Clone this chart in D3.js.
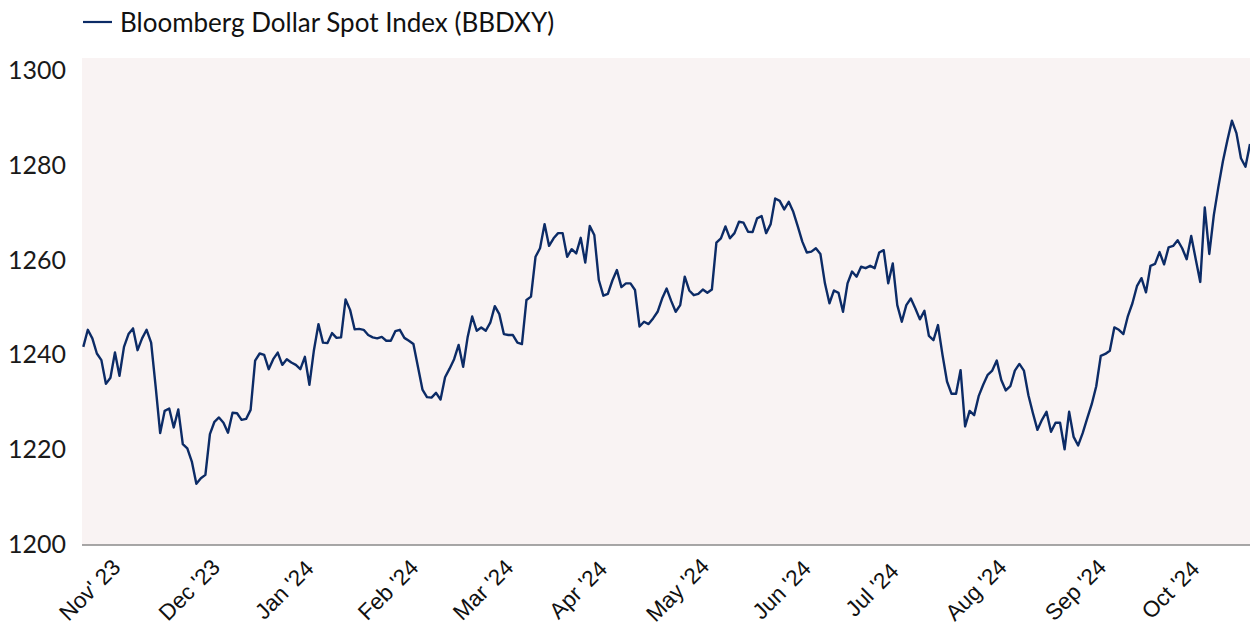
<!DOCTYPE html>
<html>
<head>
<meta charset="utf-8">
<script src="https://cdnjs.cloudflare.com/ajax/libs/d3/7.8.5/d3.min.js"></script>
<style>
  html, body { margin: 0; padding: 0; background: #fff; }
  svg { display: block; font-family: Lato, "Open Sans", sans-serif; }
</style>
</head>
<body>
<svg id="chart" width="1250" height="628"></svg>
<script>
// series + axis data
const seriesName = 'Bloomberg Dollar Spot Index (BBDXY)';
const firstDay = '2023-10-30'; // first trading day shown
const bbdxy = [
  1241.8, 1245.4, 1243.6, 1240.4, 1239.0, 1234.0, 1235.3, 1240.6, 1235.7, 1241.8,
  1244.5, 1245.7, 1241.1, 1243.6, 1245.4, 1242.7, 1233.4, 1223.6, 1228.3, 1228.8,
  1224.8, 1228.6, 1221.3, 1220.4, 1217.6, 1212.9, 1214.1, 1214.8, 1223.4, 1226.0,
  1226.9, 1225.8, 1223.7, 1227.9, 1227.8, 1226.4, 1226.6, 1228.5, 1238.9, 1240.4,
  1240.1, 1237.1, 1239.2, 1240.6, 1238.0, 1239.2, 1238.5, 1238.0, 1237.1, 1239.7,
  1233.8, 1241.1, 1246.6, 1242.7, 1242.6, 1244.7, 1243.7, 1243.8, 1251.8, 1249.6,
  1245.5, 1245.6, 1245.4, 1244.3, 1243.8, 1243.6, 1243.9, 1243.1, 1243.1, 1245.1,
  1245.4, 1243.7, 1243.1, 1242.4, 1237.6, 1232.8, 1231.2, 1231.1, 1232.1, 1230.7,
  1235.4, 1237.2, 1239.2, 1242.2, 1237.6, 1243.9, 1248.2, 1245.2, 1245.9, 1245.2,
  1246.9, 1250.4, 1248.7, 1244.5, 1244.3, 1244.3, 1242.7, 1242.4, 1251.7, 1252.4,
  1260.8, 1262.6, 1267.7, 1263.1, 1264.7, 1265.8, 1265.8, 1260.8, 1262.4, 1261.5,
  1264.8, 1259.6, 1267.3, 1265.4, 1255.9, 1252.6, 1253.0, 1255.8, 1258.0, 1254.4,
  1255.2, 1255.2, 1253.8, 1246.1, 1247.1, 1246.6, 1247.8, 1249.2, 1252.0, 1254.1,
  1251.5, 1249.2, 1250.6, 1256.6, 1253.7, 1252.7, 1253.0, 1253.9, 1253.2, 1253.9,
  1263.8, 1264.7, 1267.2, 1264.7, 1265.8, 1268.2, 1268.0, 1266.1, 1266.0, 1268.9,
  1269.4, 1265.8, 1267.7, 1273.1, 1272.6, 1270.8, 1272.4, 1270.3, 1267.2, 1264.0,
  1261.7, 1261.9, 1262.6, 1261.4, 1255.2, 1251.0, 1253.7, 1253.2, 1249.2, 1255.2,
  1257.7, 1256.6, 1258.7, 1258.4, 1258.9, 1258.4, 1261.7, 1262.2, 1255.2, 1259.4,
  1250.6, 1247.1, 1250.6, 1252.0, 1249.9, 1247.6, 1249.4, 1244.1, 1243.2, 1246.4,
  1240.1, 1234.5, 1231.9, 1231.9, 1236.9, 1225.0, 1228.3, 1227.4, 1231.4, 1233.8,
  1235.9, 1236.8, 1238.9, 1234.8, 1232.6, 1233.5, 1236.8, 1238.2, 1236.8, 1231.6,
  1227.8, 1224.3, 1226.4, 1228.1, 1223.9, 1225.8, 1225.8, 1220.2, 1228.1, 1222.8,
  1221.0, 1223.6, 1226.7, 1229.7, 1233.5, 1239.9, 1240.3, 1241.0, 1245.9, 1245.4,
  1244.5, 1248.3, 1251.0, 1254.6, 1256.3, 1253.3, 1258.9, 1259.3, 1261.8, 1259.2,
  1262.8, 1263.1, 1264.3, 1262.6, 1260.3, 1265.2, 1260.3, 1255.5, 1271.2, 1261.4,
  1269.6, 1275.5, 1280.9, 1285.4, 1289.5, 1286.9, 1281.6, 1279.8, 1284.6
];
const yTicks = [1200, 1220, 1240, 1260, 1280, 1300];
const monthLabels = ["Nov' 23", "Dec '23", "Jan '24", "Feb '24", "Mar '24", "Apr '24",
  "May '24", "Jun '24", "Jul '24", "Aug '24", "Sep '24", "Oct '24"];

const lineColor = '#0c2b66';
const bgColor = '#f9f3f3';

const svg = d3.select('#chart');
const plot = { left: 82, right: 1250, top: 58, bottom: 545 };

// trading days (weekdays) matching the series
const start = d3.timeParse('%Y-%m-%d')(firstDay);
const days = d3.timeDay.range(start, d3.timeDay.offset(start, 400))
  .filter(d => d.getDay() !== 0 && d.getDay() !== 6)
  .slice(0, bbdxy.length);
const data = days.map((d, i) => ({ date: d, value: bbdxy[i] }));

const xScale = d3.scalePoint()
  .domain(d3.range(data.length))
  .range([plot.left + 1.3, plot.right]);
const yScale = d3.scaleLinear().domain([1200, 1300]).range([plot.bottom, 71]);

// plot background
svg.append('rect')
  .attr('x', plot.left)
  .attr('y', plot.top)
  .attr('width', plot.right - plot.left)
  .attr('height', plot.bottom - plot.top)
  .attr('fill', bgColor);

// y labels
svg.append('g')
  .selectAll('text')
  .data(yTicks)
  .join('text')
  .attr('x', 66)
  .attr('y', d => yScale(d) - 2)
  .attr('text-anchor', 'end')
  .attr('dominant-baseline', 'central')
  .attr('font-size', 25)
  .attr('fill', '#1a1a1a')
  .text(d => d);

// bottom axis line, month labels at first trading day of each month
const firstIdx = [];
data.forEach((d, i) => {
  if (i === 0 || d.date.getMonth() !== data[i - 1].date.getMonth()) {
    if (d.date.getDate() <= 7) firstIdx.push(i);
  }
});
const xAxis = d3.axisBottom(xScale)
  .tickValues(firstIdx)
  .tickSize(0)
  .tickFormat('');
const gx = svg.append('g')
  .attr('transform', `translate(0, ${plot.bottom})`)
  .call(xAxis);
gx.select('.domain')
  .attr('d', `M${plot.left},0H${plot.right}`)
  .attr('stroke', '#8a8a8a')
  .attr('stroke-width', 1.5);

gx.selectAll('.tick').append('text')
  .attr('fill', '#111')
  .attr('font-size', 22.5)
  .attr('text-anchor', 'middle')
  .attr('dominant-baseline', 'central')
  .attr('transform', 'translate(-3, 45) rotate(-45)')
  .text((d, i) => monthLabels[i]);

// series line
const line = d3.line()
  .x((d, i) => xScale(i))
  .y(d => yScale(d.value));
svg.append('path')
  .datum(data)
  .attr('fill', 'none')
  .attr('stroke', lineColor)
  .attr('stroke-width', 2.4)
  .attr('stroke-linejoin', 'round')
  .attr('d', line);

// legend
const legend = svg.append('g').attr('transform', 'translate(83, 22)');
legend.append('line')
  .attr('x1', 0).attr('x2', 29)
  .attr('stroke', lineColor)
  .attr('stroke-width', 2.2);
legend.append('text')
  .attr('x', 37)
  .attr('dominant-baseline', 'central')
  .attr('font-size', 26)
  .attr('fill', '#111')
  .text(seriesName);
</script>
</body>
</html>
